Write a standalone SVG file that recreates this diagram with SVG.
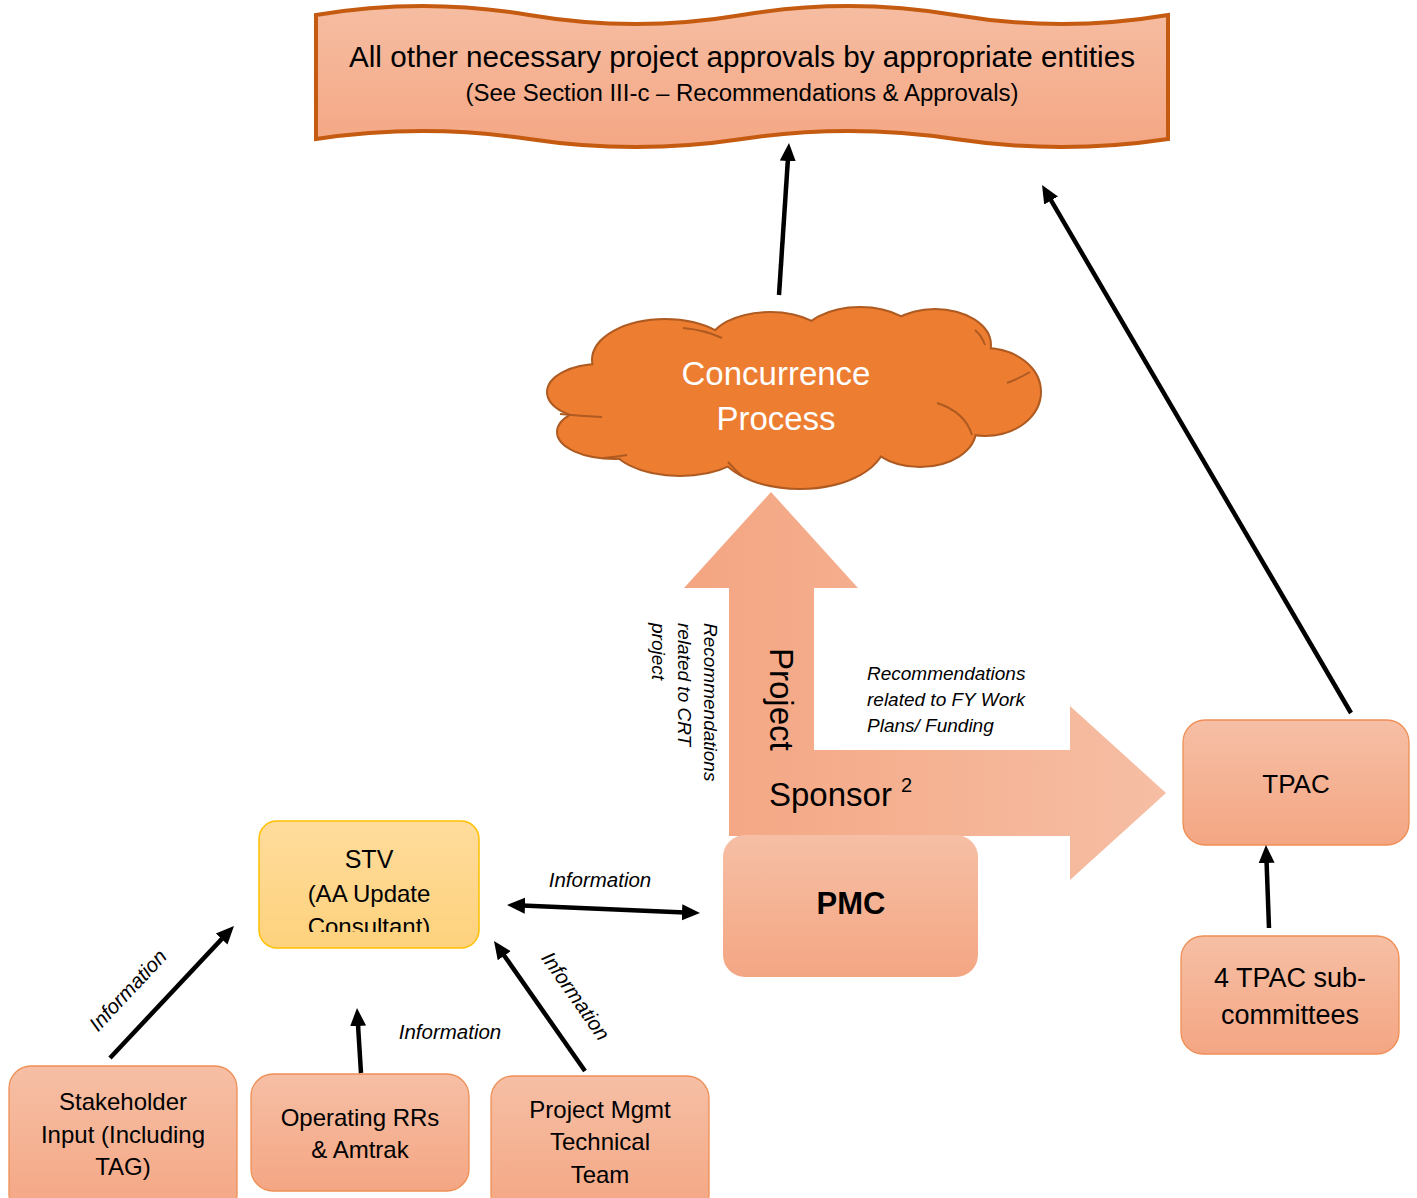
<svg xmlns="http://www.w3.org/2000/svg" width="1417" height="1198" viewBox="0 0 1417 1198">
<defs>
<style>
text{font-family:"Liberation Sans",Arial,sans-serif;fill:#000}
.box{stroke:#EF8F55;stroke-width:1.3;fill:url(#boxg)}
.lbl{font-size:24px;text-anchor:middle}
.it{font-style:italic;font-size:19px}
.inf{font-style:italic;font-size:20.5px;text-anchor:middle}
.con{stroke:#000;stroke-width:4.5;fill:none}
.cl{fill:#ED7D31}
.clo{fill:#ED7D31;stroke:#AE5A21;stroke-width:4}
.arc{fill:none;stroke:#AE5A21;stroke-width:2}
</style>
<linearGradient id="boxg" x1="0" y1="0" x2="0" y2="1">
<stop offset="0" stop-color="#F6BFA5"/><stop offset="1" stop-color="#F4A683"/>
</linearGradient>
<linearGradient id="bang" x1="0" y1="0" x2="0" y2="1">
<stop offset="0" stop-color="#F6BDA2"/><stop offset="1" stop-color="#F4A784"/>
</linearGradient>
<linearGradient id="stvg" x1="0" y1="0" x2="0" y2="1">
<stop offset="0" stop-color="#FFDC9C"/><stop offset="1" stop-color="#FED27D"/>
</linearGradient>
<linearGradient id="arrg" gradientUnits="userSpaceOnUse" x1="684" y1="0" x2="1166" y2="0">
<stop offset="0" stop-color="#F4A581"/><stop offset="1" stop-color="#F6BEA4"/>
</linearGradient>
<marker id="ah" markerUnits="userSpaceOnUse" markerWidth="20" markerHeight="18" refX="3" refY="8" orient="auto-start-reverse" viewBox="0 0 20 16">
<path d="M0,0 L18,8 L0,16 z" fill="#000"/>
</marker>
<clipPath id="stvclip"><rect x="259" y="821" width="220" height="111"/></clipPath>
</defs>

<g id="approvals">
<path d="M316,15 C387,3 458,3 529,15 C600,27 671,27 742,15 C813,3 884,3 955,15 C1026,27 1097,27 1168,15 L1168,139 C1097,149.7 1026,149.7 955,139 C884,128.3 813,128.3 742,139 C671,149.7 600,149.7 529,139 C458,128.3 387,128.3 316,139 Z" fill="url(#bang)" stroke="#C55A11" stroke-width="4"/>
<text x="742" y="67" style="font-size:29.5px;text-anchor:middle" textLength="786" lengthAdjust="spacingAndGlyphs">All other necessary project approvals by appropriate entities</text>
<text x="742" y="101" style="font-size:23.5px;text-anchor:middle" textLength="553" lengthAdjust="spacingAndGlyphs">(See Section III-c – Recommendations &amp; Approvals)</text>
</g>

<g id="concurrence">
<g class="clo">
<ellipse cx="600" cy="392" rx="52" ry="27"/>
<ellipse cx="615" cy="432" rx="57" ry="26"/>
<ellipse cx="665" cy="360" rx="72" ry="40"/>
<ellipse cx="770" cy="345" rx="60" ry="32"/>
<ellipse cx="860" cy="340" rx="58" ry="32"/>
<ellipse cx="935" cy="345" rx="55" ry="35"/>
<ellipse cx="985" cy="392" rx="55" ry="43"/>
<ellipse cx="920" cy="430" rx="55" ry="36"/>
<ellipse cx="800" cy="440" rx="85" ry="48"/>
<ellipse cx="680" cy="440" rx="70" ry="35"/>
</g>
<g class="cl">
<ellipse cx="600" cy="392" rx="52" ry="27"/>
<ellipse cx="615" cy="432" rx="57" ry="26"/>
<ellipse cx="665" cy="360" rx="72" ry="40"/>
<ellipse cx="770" cy="345" rx="60" ry="32"/>
<ellipse cx="860" cy="340" rx="58" ry="32"/>
<ellipse cx="935" cy="345" rx="55" ry="35"/>
<ellipse cx="985" cy="392" rx="55" ry="43"/>
<ellipse cx="920" cy="430" rx="55" ry="36"/>
<ellipse cx="800" cy="440" rx="85" ry="48"/>
<ellipse cx="680" cy="440" rx="70" ry="35"/>
<ellipse cx="790" cy="395" rx="200" ry="55"/>
</g>
<path class="arc" d="M602,417 Q580,416 560,414"/>
<path class="arc" d="M683,328 Q705,330 722,338"/>
<path class="arc" d="M975,330 Q982,336 985,345"/>
<path class="arc" d="M1007,383 Q1020,378 1030,372"/>
<path class="arc" d="M937,403 Q965,412 972,435"/>
<path class="arc" d="M728,462 Q735,470 742,476"/>
<path class="arc" d="M627,455 Q615,457 603,458"/>
<text x="776" y="385" style="font-size:33px;text-anchor:middle;fill:#fff">Concurrence</text>
<text x="776" y="430" style="font-size:33px;text-anchor:middle;fill:#fff">Process</text>
</g>

<g id="sponsor-arrow">
<path d="M729,836 L729,588 L684,588 L771,492 L858,588 L814,588 L814,750 L1070,750 L1070,706 L1166,793 L1070,880 L1070,836 Z" fill="url(#arrg)"/>
<text transform="translate(770,648) rotate(90)" style="font-size:33px">Project</text>
<text x="769" y="806" style="font-size:33px">Sponsor <tspan style="font-size:20px" dy="-14">2</tspan></text>
</g>

<g id="pmc">
<rect x="723" y="835" width="255" height="142" rx="22" fill="url(#boxg)"/>
<text x="851" y="914" style="font-size:31px;font-weight:bold;text-anchor:middle">PMC</text>
</g>

<g id="stv">
<rect x="259" y="821" width="220" height="127" rx="18" fill="url(#stvg)" stroke="#FFC000" stroke-width="1.5"/>
<g clip-path="url(#stvclip)">
<text x="369" y="868" style="font-size:25px;text-anchor:middle">STV</text>
<text x="369" y="902" style="font-size:24px;text-anchor:middle">(AA Update</text>
<text x="369" y="935" style="font-size:24px;text-anchor:middle">Consultant)</text>
</g>
</g>

<g id="tpac">
<rect class="box" x="1183" y="720" width="226" height="125" rx="22"/>
<text x="1296" y="793" style="font-size:26px;text-anchor:middle">TPAC</text>
</g>

<g id="subcommittees">
<rect class="box" x="1181" y="936" width="218" height="118" rx="22"/>
<text x="1290" y="987" style="font-size:27px;text-anchor:middle">4 TPAC sub-</text>
<text x="1290" y="1024" style="font-size:27px;text-anchor:middle">committees</text>
</g>

<g id="stakeholder">
<rect class="box" x="9" y="1066" width="228" height="150" rx="22"/>
<text class="lbl" x="123" y="1110">Stakeholder</text>
<text class="lbl" x="123" y="1143">Input (Including</text>
<text class="lbl" x="123" y="1175">TAG)</text>
</g>

<g id="operating">
<rect class="box" x="251" y="1074" width="218" height="117" rx="22"/>
<text class="lbl" x="360" y="1126">Operating RRs</text>
<text class="lbl" x="360" y="1158">&amp; Amtrak</text>
</g>

<g id="pmtt">
<rect class="box" x="491" y="1076" width="218" height="140" rx="22"/>
<text class="lbl" x="600" y="1118">Project Mgmt</text>
<text class="lbl" x="600" y="1150">Technical</text>
<text class="lbl" x="600" y="1183">Team</text>
</g>

<g id="connectors">
<line class="con" x1="779" y1="295" x2="788" y2="158" marker-end="url(#ah)"/>
<line class="con" x1="1351" y1="713" x2="1049.6" y2="197.9" marker-end="url(#ah)"/>
<line class="con" x1="522" y1="905.6" x2="685" y2="912.4" marker-start="url(#ah)" marker-end="url(#ah)"/>
<line class="con" x1="110" y1="1058" x2="223.7" y2="936.9" marker-end="url(#ah)"/>
<line class="con" x1="361" y1="1073" x2="357.9" y2="1023" marker-end="url(#ah)"/>
<line class="con" x1="585" y1="1071" x2="502.6" y2="953.3" marker-end="url(#ah)"/>
<line class="con" x1="1269" y1="928" x2="1266.5" y2="860" marker-end="url(#ah)"/>
</g>

<g id="labels">
<text class="it" transform="translate(704,623) rotate(90)">Recommendations</text>
<text class="it" transform="translate(678,623) rotate(90)">related to CRT</text>
<text class="it" transform="translate(652,623) rotate(90)">project</text>
<text class="it" x="867" y="680">Recommendations</text>
<text class="it" x="867" y="706">related to FY Work</text>
<text class="it" x="867" y="732">Plans/ Funding</text>
<text class="inf" x="600" y="887">Information</text>
<text class="inf" x="450" y="1039">Information</text>
<text class="inf" transform="translate(133,995) rotate(-47)">Information</text>
<text class="inf" transform="translate(570,1000) rotate(55)">Information</text>
</g>
</svg>
